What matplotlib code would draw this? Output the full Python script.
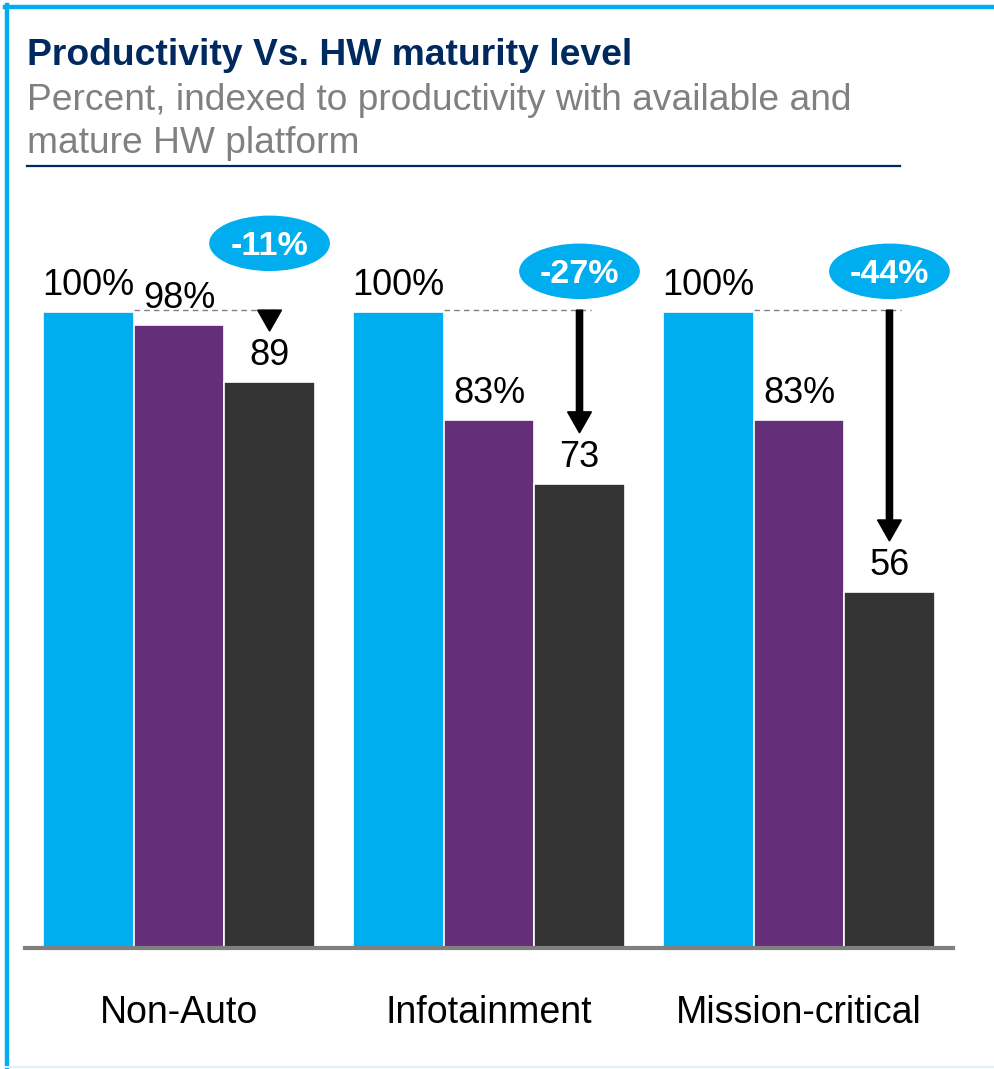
import matplotlib.pyplot as plt
from matplotlib.patches import Ellipse
from matplotlib.lines import Line2D
import numpy as np

plt.rcParams['font.family'] = ['Liberation Sans', 'DejaVu Sans']

# data
categories = ["Non-Auto", "Infotainment", "Mission-critical"]
available_mature = [100, 100, 100]
available_immature = [98, 83, 83]
not_available = [89, 73, 56]
change_labels = ["-11%", "-27%", "-44%"]

blue = '#00AEEF'
purple = '#642F78'
dark = '#333333'
navy = '#002960'

W, H = 994, 1069
fig = plt.figure(figsize=(W / 100, H / 100), dpi=100)

def fx(px):
    return px / W

def fy(py):
    return 1 - py / H

# frame around the card
fig.add_artist(Line2D([fx(5), 1], [fy(7), fy(7)], color=blue, lw=3.2, transform=fig.transFigure))
fig.add_artist(Line2D([fx(7), fx(7)], [fy(5), 0], color=blue, lw=3.2, transform=fig.transFigure))
fig.add_artist(Line2D([fx(5), 1], [fy(1067), fy(1067)], color='#DDF3FC', lw=1.5, transform=fig.transFigure))

# title block
fig.text(fx(27), fy(65), "Productivity Vs. HW maturity level", fontsize=26.8,
         fontweight='bold', color=navy, va='baseline')
fig.text(fx(27), fy(110), "Percent, indexed to productivity with available and",
         fontsize=26.7, color='#808080', va='baseline')
fig.text(fx(27), fy(153), "mature HW platform", fontsize=26.7, color='#808080', va='baseline')
fig.add_artist(Line2D([fx(27), fx(900)], [fy(166), fy(166)], color=navy, lw=1.6,
                      transform=fig.transFigure))

# chart axes: baseline at y=948px, 100 -> 312px
ax = fig.add_axes([fx(25), (H - 948) / H, fx(953) - fx(25), 748 / H])
px_per_unit = 636 / 100
ax.set_ylim(0, 748 / px_per_unit)
ax.set_xlim(-0.497, 2.497)

x = np.arange(len(categories))
off = 0.292
bw = 0.292
series = [available_mature, available_immature, not_available]
colors = [blue, purple, dark]
for i, (vals, c) in enumerate(zip(series, colors)):
    xs = x + (i - 1) * off
    ax.bar(xs, vals, width=bw, color=c, edgecolor='white', linewidth=1.2, zorder=2)
    for xi, v in zip(xs, vals):
        lab = f"{v}%" if i < 2 else f"{v}"
        ax.text(xi, v + 2.7, lab, ha='center', va='baseline', fontsize=26, color='black')

for xi, top, low, lab in zip(x, available_mature, not_available, change_labels):
    xa = xi + off
    # dashed reference line at the 100% level
    ax.plot([xi - off + bw / 2, xa + 0.036], [top + 0.25, top + 0.25], color='#808080',
            lw=1, ls=(0, (4, 3)), zorder=1)
    tip = low + 8
    start = top + 0.3
    ax.arrow(xa, start, 0, tip - start, width=0.02, head_width=0.077, head_length=3.3,
             length_includes_head=True, color='black', zorder=3)
    cy = 110.8 if xi == 0 else 106.4
    ax.add_patch(Ellipse((xa, cy), 0.385, 8.5, color=blue, zorder=3))
    ax.text(xa, cy, lab, ha='center', va='center_baseline', fontsize=24.5, fontweight='bold',
            color='white', zorder=4)

for xi, cat in zip(x, categories):
    ax.text(xi, -11.8, cat, ha='center', va='baseline', fontsize=27, color='black',
            clip_on=False)

for s in ['top', 'right', 'left']:
    ax.spines[s].set_visible(False)
ax.spines['bottom'].set_color('#808080')
ax.spines['bottom'].set_linewidth(3)
ax.set_xticks([])
ax.set_yticks([])
ax.patch.set_alpha(0)

fig.savefig("out.png", dpi=100)
